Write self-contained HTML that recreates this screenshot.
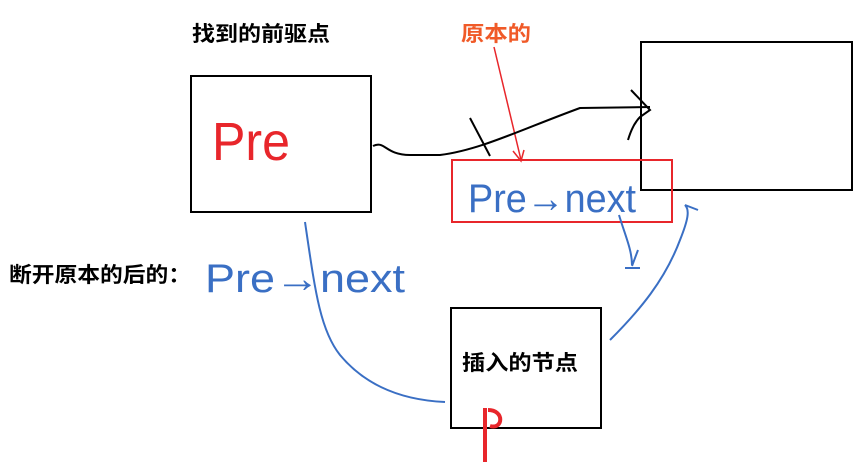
<!DOCTYPE html>
<html><head><meta charset="utf-8"><style>
body{margin:0;background:#fff;width:859px;height:472px;overflow:hidden}
svg{display:block}
.b{font-family:"Liberation Sans","Noto Sans CJK SC",sans-serif;font-weight:bold}
</style></head><body>
<svg width="859" height="472" viewBox="0 0 859 472">
<rect width="859" height="472" fill="#fff"/>
<g fill="none" stroke="#000" stroke-width="2">
<rect x="191" y="76" width="180" height="136"/>
<rect x="641" y="42" width="211" height="148"/>
<rect x="451" y="308" width="150" height="120"/>
</g>
<rect x="452" y="160" width="220" height="62" fill="none" stroke="#e8262b" stroke-width="2"/>
<text class="b" x="192" y="41" font-size="21" fill="#000" textLength="138" lengthAdjust="spacingAndGlyphs">找到的前驱点</text>
<text class="b" x="461" y="41" font-size="21" fill="#f05a28" textLength="70" lengthAdjust="spacingAndGlyphs">原本的</text>
<text class="b" x="9" y="282" font-size="21" fill="#000" textLength="182" lengthAdjust="spacingAndGlyphs">断开原本的后的：</text>
<text class="b" x="462" y="370" font-size="21" fill="#000" textLength="116" lengthAdjust="spacingAndGlyphs">插入的节点</text>
<line x1="494" y1="47" x2="521" y2="160" stroke="#e8262b" stroke-width="1.5"/>
<path d="M513 151 L521 161 L524 150" fill="none" stroke="#e8262b" stroke-width="1.5"/>
<path d="M373 146 C385 140,385 155,410 155 L440 155 C480 150,520 130,580 108 L650 107" fill="none" stroke="#000" stroke-width="2"/>
<path d="M631 90 L650 110 L640 117 C635 122,631 130,628 140" fill="none" stroke="#000" stroke-width="2"/>
<path d="M470 118 L490 156" fill="none" stroke="#000" stroke-width="2"/>
<text x="212" y="160" font-family="Liberation Sans,sans-serif" font-size="54" fill="#e8262b" textLength="78" lengthAdjust="spacingAndGlyphs">Pre</text>
<text x="468" y="212" font-family="Liberation Sans,sans-serif" font-size="40" fill="#3a6fc4" textLength="168" lengthAdjust="spacingAndGlyphs">Pre→next</text>
<text x="205" y="292" font-family="Liberation Sans,sans-serif" font-size="40" fill="#3a6fc4" textLength="200" lengthAdjust="spacingAndGlyphs">Pre→next</text>
<g fill="none" stroke="#3a6fc4" stroke-width="2">
<path d="M305 222 C315 290,320 330,340 355 C365 385,400 400,445 402"/>
<path d="M619 215 C625 235,632 250,632 265 M625 268 L640 268 M632 266 L638 250"/>
<path d="M610 340 C640 310,665 280,680 240 C688 220,690 210,685 205 L698 210"/>
</g>
<path d="M485 408 L485 462 M488 410 C505 410,503 430,490 426" fill="none" stroke="#e8262b" stroke-width="4"/>
</svg>
</body></html>
